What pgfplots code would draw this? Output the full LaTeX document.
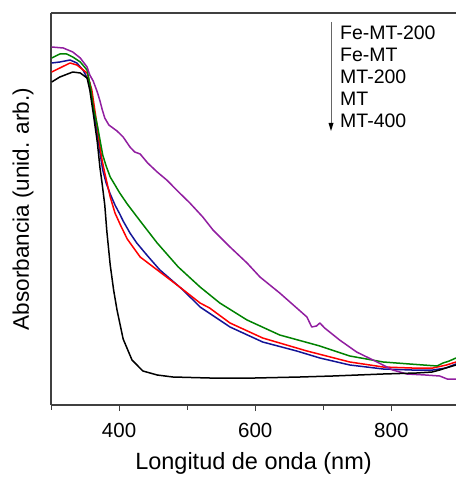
\documentclass[border=0pt]{standalone}
\usepackage{pgfplots}
\pgfplotsset{compat=1.18}
\usepackage{fontspec}
\setmainfont{Liberation Sans}
\definecolor{cpurple}{RGB}{145,30,160}
\definecolor{cgreen}{RGB}{0,130,0}
\definecolor{cblue}{RGB}{20,20,150}
\definecolor{cred}{RGB}{255,0,0}
\begin{document}
\begin{tikzpicture}
\useasboundingbox (-51bp,-74bp) rectangle (405bp,405bp);
\begin{axis}[
  scale only axis, width=405bp, height=392bp,
  xmin=300, xmax=895, ymin=0, ymax=392,
  axis x line*=box, axis y line*=left,
  x axis line style={-}, y axis line style={-},
  axis line style={line width=1.1pt, black!75},
  xtick={400,600,800}, minor xtick={300,500,700},
  xtick pos=bottom, xtick align=outside,
  major tick length=6bp, minor tick length=4.5bp,
  tick style={line width=1pt, black!75},
  ytick=\empty,
  /pgf/number format/assume math mode=true,
  xticklabel style={font=\fontsize{20.5bp}{22bp}\selectfont, yshift=-9bp},
  xlabel={Longitud de onda (nm)},
  ylabel={Absorbancia (unid. arb.)},
  xlabel style={font=\fontsize{23.5bp}{26bp}\selectfont, yshift=-8bp},
  ylabel style={font=\fontsize{22.5bp}{26bp}\selectfont, yshift=14bp},
  every axis plot/.append style={line width=1.5bp, line join=round},
  clip=true,
]
\addplot[cblue] coordinates {(301,342)(313,343)(328,345)(338,342)(347,335)(357,322)(362,298)(368,272)(372,252)(376,235)(381,222)(387,211)(394,200)(401,191)(406,184)(416,172)(426,162)(442,149)(460,135)(494,115)(519,98)(563,78)(611,63)(661,54)(695,47)(739,40)(788,36)(830,35)(861,35)(880,37)(895,41)};
\addplot[cred] coordinates {(301,333)(313,337)(328,342)(338,340)(353,332)(360,315)(365,292)(368,278)(372,258)(375,245)(379,232)(387,208)(394,192)(402,180)(412,166)(431,148)(460,133)(489,118)(519,102)(533,97)(563,82)(611,67)(676,54)(739,43)(788,38)(830,37)(861,37)(881,40)(895,43)};
\addplot[cgreen] coordinates {(301,347)(313,351)(323,351)(332,348)(343,343)(353,335)(358,318)(362,298)(368,280)(372,265)(376,250)(381,239)(387,228)(401,212)(412,201)(431,184)(456,162)(487,138)(519,118)(548,102)(588,85)(636,70)(695,59)(739,49)(788,43)(827,41)(867,39)(876,42)(885,44)(895,47)};
\addplot[cpurple] coordinates {(301,358)(318,357)(332,353)(343,347)(353,338)(357,330)(362,324)(368,313)(372,304)(375,296)(379,287)(385,280)(391,277)(397,274)(406,268)(416,258)(423,253)(431,251)(442,242)(456,233)(470,225)(489,212)(504,202)(523,188)(538,175)(563,158)(588,142)(607,128)(636,112)(661,97)(676,88)(683,78)(690,79)(695,82)(702,77)(724,65)(749,53)(779,43)(802,35)(823,31)(850,30)(871,29)(882,26)(895,26)};
\addplot[black] coordinates {(301,323)(313,328)(332,333)(343,332)(353,327)(357,315)(362,292)(368,263)(372,237)(375,222)(379,200)(382,174)(387,140)(392,115)(397,95)(406,66)(419,45)(435,34)(456,30)(479,28)(533,27)(600,27)(666,28)(714,29)(788,31)(837,32)(860,33)(871,35)(880,37)(895,40)};
\end{axis}
\draw[black!60, line width=0.8bp] (280bp,383bp) -- (280bp,281bp);
\fill[black] (277.5bp,282bp) -- (282.5bp,282bp) -- (280bp,274bp) -- cycle;
\begin{scope}[every node/.style={anchor=base west, inner sep=0pt, font=\fontsize{19.5bp}{22bp}\selectfont}]
\node at (289bp,365bp) {Fe-MT-200};
\node at (289bp,343bp) {Fe-MT};
\node at (289bp,321bp) {MT-200};
\node at (289bp,299bp) {MT};
\node at (289bp,277bp) {MT-400};
\end{scope}
\end{tikzpicture}
\end{document}
